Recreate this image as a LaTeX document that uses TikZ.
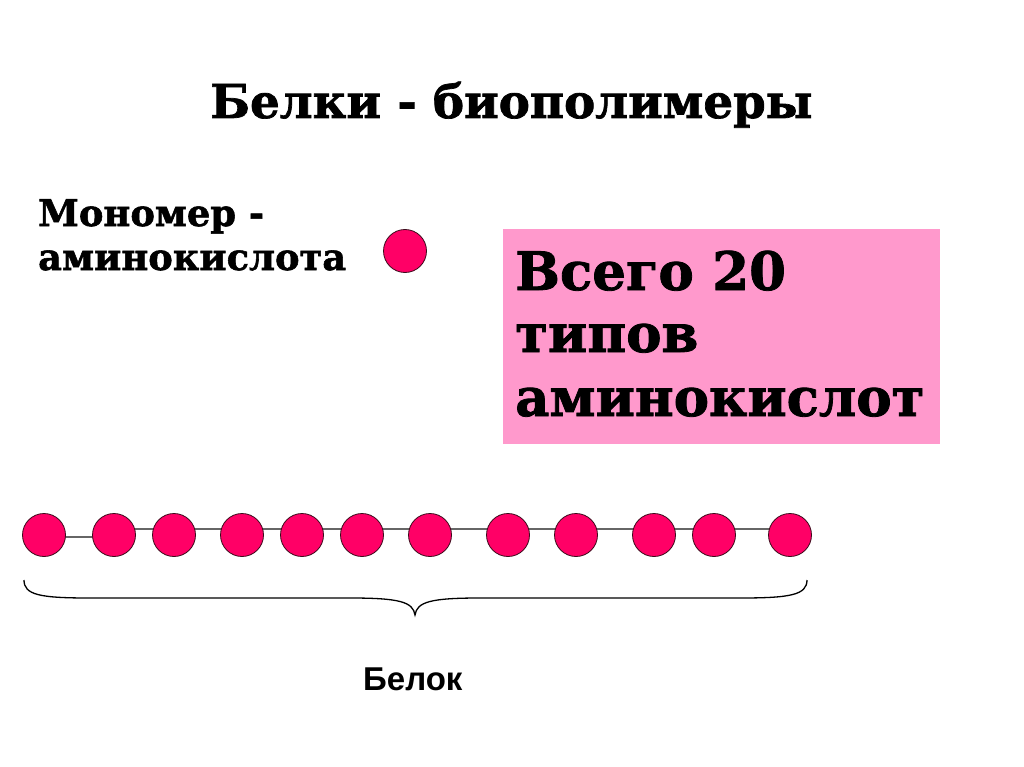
\documentclass[tikz,border=0pt]{standalone}
\usepackage{fontspec}
\setmainfont{DejaVu Serif}[BoldFeatures={FakeBold=1.5}]
\newfontfamily\sansf{Liberation Sans}
\usetikzlibrary{positioning,backgrounds}
\definecolor{bead}{HTML}{FF0066}
\definecolor{beadrim}{HTML}{3A0A1A}
\definecolor{boxpink}{HTML}{FF99CC}
\tikzset{
    bead/.style={circle, fill=bead, draw=beadrim, line width=0.8pt, minimum size=43pt, inner sep=0pt},
    chainline/.style={draw=black!60, line width=1.5pt},
    label/.style={anchor=base west, inner sep=0pt}
}
\begin{document}
\begin{tikzpicture}[x=1pt,y=-1pt]
    \useasboundingbox (0,0) rectangle (1024,767);

    % Titel
    \node[label, font=\bfseries\fontsize{46.7}{50}\selectfont] (title) at (210,118) {Белки - биополимеры};

    % Monomer
    \node[label, font=\bfseries\fontsize{36.8}{40}\selectfont] (mono1) at (38,226) {Мономер -};
    \node[label, font=\bfseries\fontsize{36.8}{40}\selectfont] (mono2) at (38,270) {аминокислота};
    \node[bead] (single) at (405,251) {};

    % Rosa Kasten
    \node[fill=boxpink, minimum width=437pt, minimum height=215pt, inner sep=0pt] (box) at (721.5,336.5) {};
    \node[label, font=\bfseries\fontsize{53}{56}\selectfont] (box1) at (515,290) {Всего 20};
    \node[label, font=\bfseries\fontsize{53}{56}\selectfont] (box2) at (515,352) {типов};
    \node[label, font=\bfseries\fontsize{53}{56}\selectfont] (box3) at (515,416) {аминокислот};

    % Kette der Aminosäuren
    \foreach \x [count=\i] in {44,114,174,242,302,362,430,508,576,654,714,790} {
        \node[bead] (c\i) at (\x,535) {};
    }
    \begin{scope}[on background layer]
        \draw[chainline] ([yshift=-2pt]c1.center) -- ([yshift=-2pt]c2.center);
        \draw[chainline] ([yshift=6pt]c2.center) -- ([yshift=6pt]c12.center);
    \end{scope}

    % Klammer
    \coordinate (bl) at (24,580);
    \coordinate (bm) at (415,615);
    \coordinate (br) at (807,580);
    \draw[line width=1.3pt] (bl) .. controls (24,595) and (40,598) .. (90,598) -- (350,598)
        .. controls (400,598) and (413,602) .. (bm)
        .. controls (417,602) and (430,598) .. (480,598) -- (740,598)
        .. controls (790,598) and (807,595) .. (br);

    \node[label, font=\sansf\bfseries\fontsize{33}{38}\selectfont] (protein) at (363,690) {Белок};
\end{tikzpicture}
\end{document}
